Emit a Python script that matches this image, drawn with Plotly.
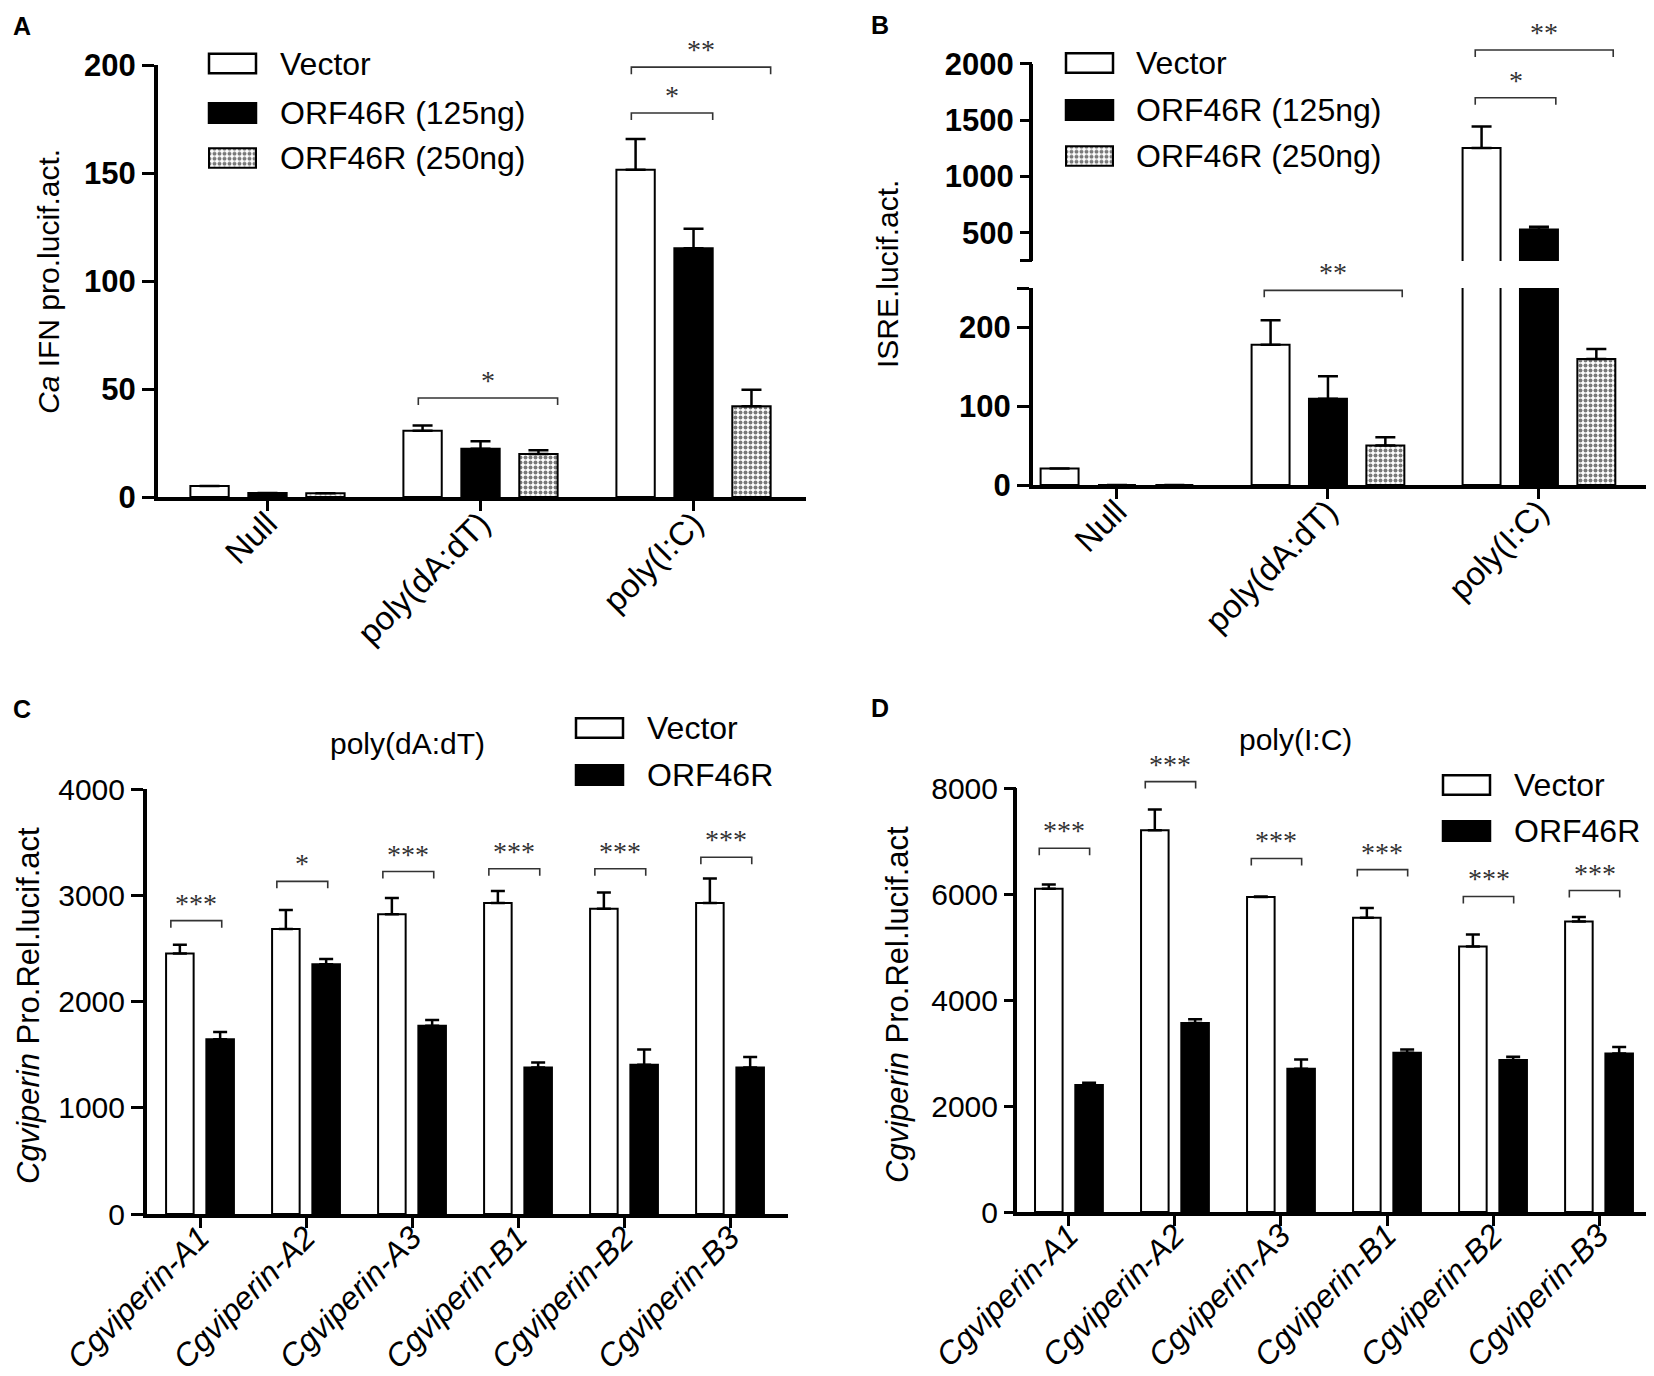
import plotly.graph_objects as go

W, H = 1654, 1376

# ---------------- data ----------------
stim_groups = ["Null", "poly(dA:dT)", "poly(I:C)"]

# panel A: Ca IFN promoter luciferase activity
ifn_vector = [5.1, 30.7, 151.5]
ifn_vector_err = [None, 2.4, 14.2]
ifn_orf125 = [1.9, 22.3, 115.2]
ifn_orf125_err = [None, 3.5, 9.0]
ifn_orf250 = [1.7, 19.9, 42.0]
ifn_orf250_err = [None, 1.7, 7.6]
# (group, from series, to series, height, label)
ifn_sig = [(1, 0, 2, 45.8, "*"), (2, 0, 1, 177.8, "*"), (2, 0, 2, 199.0, "**")]

# panel B: ISRE luciferase activity (broken axis)
isre_vector = [21, 178, 1254]
isre_vector_err = [None, 31, 190]
isre_orf125 = [0, 109.5, 529]
isre_orf125_err = [None, 28.5, 25]
isre_orf250 = [0, 50, 160]
isre_orf250_err = [None, 10.5, 12.6]
isre_sig = [(1, 0, 2, 247, "**"), (2, 0, 1, 1700, "*"), (2, 0, 2, 2125, "**")]

# panels C and D: Cgviperin promoters
viperin_genes = ["Cgviperin-A1", "Cgviperin-A2", "Cgviperin-A3",
                 "Cgviperin-B1", "Cgviperin-B2", "Cgviperin-B3"]

dadt_vector = [2451, 2682, 2822, 2926, 2874, 2926]
dadt_vector_err = [83, 179, 152, 114, 153, 231]
dadt_orf = [1644, 2351, 1771, 1378, 1404, 1378]
dadt_orf_err = [70, 48, 56, 48, 144, 100]
dadt_sig_y = [2761, 3131, 3223, 3249, 3249, 3358]
dadt_sig = ["***", "*", "***", "***", "***", "***"]

pic_vector = [6101, 7203, 5944, 5551, 5009, 5481]
pic_vector_err = [79, 393, 10, 183, 227, 87]
pic_orf = [2395, 3566, 2701, 3007, 2867, 2990]
pic_orf_err = [44, 70, 175, 61, 61, 122]
pic_sig_y = [6862, 8121, 6670, 6460, 5953, 6066]
pic_sig = ["***"] * 6

# ---------------- styling ----------------
FONT = "Liberation Sans, Arial, sans-serif"
SERIF = "Liberation Serif, Times New Roman, serif"
AX_LW = 4
CENTERS3 = [-0.272, 0.0, 0.272]
BW3 = 0.18
CENTERS2 = [-0.19, 0.19]
BW2 = 0.26

VEC = dict(color="white", line=dict(color="black", width=2))
BLK = dict(color="black", line=dict(color="black", width=2))
CHK = dict(color="white", line=dict(color="black", width=2),
           pattern=dict(shape=".", size=5, solidity=0.5, fgcolor="#7a7a7a",
                        bgcolor="white", fillmode="replace"))


def px_x(v):
    return v / W


def px_y(v):
    return 1 - v / H


fig = go.Figure()


def add_bars(xa, ya, values, errs, center, width, marker, cap):
    n = len(values)
    fig.add_trace(go.Bar(
        x=list(range(n)), y=values, width=width, offset=center - width / 2,
        marker=marker, xaxis=xa, yaxis=ya, showlegend=False,
        error_y=dict(type="data", array=errs, arrayminus=[0] * n, symmetric=False,
                     color="black", thickness=2.5, width=cap)))


def add_bracket(xa, ya, x0, x1, y, label, size=28):
    fig.add_shape(type="path", xref=xa, yref=ya, ysizemode="pixel", yanchor=y,
                  path=f"M{x0},-7 L{x0},0 L{x1},0 L{x1},-7",
                  line=dict(color="#333", width=1.6))
    fig.add_annotation(xref=xa, yref=ya, x=(x0 + x1) / 2, y=y, text=label,
                       showarrow=False, yanchor="bottom", yshift=0,
                       font=dict(family=SERIF, size=size, color="#333"))


# panel A
for series, errs, k, mk in [(ifn_vector, ifn_vector_err, 0, VEC),
                            (ifn_orf125, ifn_orf125_err, 1, BLK),
                            (ifn_orf250, ifn_orf250_err, 2, CHK)]:
    add_bars("x", "y", series, errs, CENTERS3[k], BW3, mk, 10)
for g, a, b, y, lab in ifn_sig:
    add_bracket("x", "y", g + CENTERS3[a] - 0.02, g + CENTERS3[b] + 0.09, y, lab)

# panel B (lower x2/y2 and upper x3/y3 segments)
for xa, ya in [("x2", "y2"), ("x3", "y3")]:
    for series, errs, k, mk in [(isre_vector, isre_vector_err, 0, VEC),
                                (isre_orf125, isre_orf125_err, 1, BLK),
                                (isre_orf250, isre_orf250_err, 2, CHK)]:
        add_bars(xa, ya, series, errs, CENTERS3[k], BW3, mk, 10)
for g, a, b, y, lab in isre_sig:
    xa, ya = ("x2", "y2") if y <= 250 else ("x3", "y3")
    add_bracket(xa, ya, g + CENTERS3[a] - 0.03, g + CENTERS3[b] + 0.08, y, lab)

# panel C
add_bars("x4", "y4", dadt_vector, dadt_vector_err, CENTERS2[0], BW2, VEC, 7)
add_bars("x4", "y4", dadt_orf, dadt_orf_err, CENTERS2[1], BW2, BLK, 7)
for g, (y, lab) in enumerate(zip(dadt_sig_y, dadt_sig)):
    add_bracket("x4", "y4", g + CENTERS2[0] - 0.085, g + CENTERS2[1] + 0.015, y, lab)

# panel D
add_bars("x5", "y5", pic_vector, pic_vector_err, CENTERS2[0], BW2, VEC, 7)
add_bars("x5", "y5", pic_orf, pic_orf_err, CENTERS2[1], BW2, BLK, 7)
for g, (y, lab) in enumerate(zip(pic_sig_y, pic_sig)):
    add_bracket("x5", "y5", g + CENTERS2[0] - 0.09, g + CENTERS2[1] + 0.005, y, lab)

# checker legend swatches drawn as bars on hidden axes
for xa, ya in [("x6", "y6"), ("x7", "y7")]:
    fig.add_trace(go.Bar(x=[0], y=[1], width=[1], marker=CHK, xaxis=xa, yaxis=ya,
                         showlegend=False, hoverinfo="skip"))

# ---------------- axes ----------------
xbase = dict(showline=True, linewidth=AX_LW, linecolor="black", ticks="outside",
             ticklen=10, tickwidth=3, tickcolor="black", showgrid=False,
             zeroline=False, tickangle=-45, fixedrange=True)
ybase = dict(showline=True, linewidth=AX_LW, linecolor="black", ticks="outside",
             ticklen=12, tickwidth=3, tickcolor="black", showgrid=False,
             zeroline=False, fixedrange=True)
bold_tick = dict(family=FONT, size=31, color="black", weight="bold")
reg_tick = dict(family=FONT, size=30, color="black")
cat_tick = dict(family=FONT, size=33, color="black")
ital_tick = dict(family=FONT, size=32, color="black")
ital_ticks = [f"<i>{g}</i>" for g in viperin_genes]

# pixel geometry of the four panels
A_Y200, A_Y0 = 57, 489
B_Y2000, B_YBRK_UP, B_YBRK_LO, B_Y0 = 56, 253, 280, 477
B_UP_TOP = 2160
C_Y4000, C_Y0 = 781, 1206
D_Y8000, D_Y0 = 780, 1204
D_TOP = 8150

b_up_px = (B_YBRK_UP - B_Y2000) / 1750
d_px = (D_Y0 - D_Y8000) / 8000

layout_axes = dict(
    xaxis=dict(xbase, domain=[px_x(150), px_x(798)], range=[-0.514, 2.528], anchor="y",
               tickvals=[0, 1, 2], ticktext=stim_groups, tickfont=cat_tick,
               ticklabelstandoff=-20),
    yaxis=dict(ybase, domain=[px_y(A_Y0), px_y(A_Y200)], range=[0, 200], anchor="x",
               tickvals=[0, 50, 100, 150, 200], tickfont=bold_tick),
    xaxis2=dict(xbase, domain=[px_x(1025), px_x(1647)], range=[-0.398, 2.55], anchor="y2",
                tickvals=[0, 1, 2], ticktext=stim_groups, tickfont=cat_tick,
                ticklabelstandoff=-20),
    yaxis2=dict(ybase, domain=[px_y(B_Y0), px_y(B_YBRK_LO)], range=[0, 250], anchor="x2",
                tickvals=[0, 100, 200, 250], ticktext=["0", "100", "200", ""],
                tickfont=bold_tick),
    xaxis3=dict(domain=[px_x(1025), px_x(1647)], range=[-0.398, 2.55], anchor="y3",
                visible=False, fixedrange=True),
    yaxis3=dict(ybase, showline=False,
                domain=[px_y(B_YBRK_UP), px_y(B_Y2000 - (B_UP_TOP - 2000) * b_up_px)],
                range=[250, B_UP_TOP], anchor="x3",
                tickvals=[250, 500, 1000, 1500, 2000],
                ticktext=["", "500", "1000", "1500", "2000"], tickfont=bold_tick),
    xaxis4=dict(xbase, domain=[px_x(139), px_x(780)], range=[-0.5, 5.547], anchor="y4",
                tickvals=list(range(6)), ticktext=ital_ticks, tickfont=ital_tick,
                ticklabelstandoff=-22),
    yaxis4=dict(ybase, domain=[px_y(C_Y0), px_y(C_Y4000)], range=[0, 4000], anchor="x4",
                tickvals=[0, 1000, 2000, 3000, 4000], tickfont=reg_tick),
    xaxis5=dict(xbase, domain=[px_x(1009), 1.0], range=[-0.49, 5.594], anchor="y5",
                tickvals=list(range(6)), ticktext=ital_ticks, tickfont=ital_tick,
                ticklabelstandoff=-22),
    yaxis5=dict(ybase, showline=False,
                domain=[px_y(D_Y0), px_y(D_Y8000 - (D_TOP - 8000) * d_px)],
                range=[0, D_TOP], anchor="x5",
                tickvals=[0, 2000, 4000, 6000, 8000], tickfont=reg_tick),
)

# legend swatch axes (box 47 x 19.5 px, padded by 2 px)
pad_x, pad_y = 2 / 47, 2 / 19.5
for ax_id, (bx, by) in [("6", (201, 150)), ("7", (1058, 148))]:
    layout_axes["xaxis" + ax_id] = dict(domain=[px_x(bx - 2), px_x(bx + 49)],
                                        range=[-0.5 - pad_x, 0.5 + pad_x],
                                        anchor="y" + ax_id, visible=False, fixedrange=True)
    layout_axes["yaxis" + ax_id] = dict(domain=[px_y(by + 11.75), px_y(by - 11.75)],
                                        range=[-pad_y, 1 + pad_y],
                                        anchor="x" + ax_id, visible=False, fixedrange=True)

fig.update_layout(width=W, height=H, margin=dict(l=0, r=0, t=0, b=0),
                  template="none", paper_bgcolor="white", plot_bgcolor="white",
                  barmode="overlay", font=dict(family=FONT, color="black"),
                  **layout_axes)

# manual y-axis lines where the range runs past the top tick
fig.add_shape(type="line", xref="x3 domain", yref="y3 domain", xsizemode="pixel", xanchor=0,
              x0=-AX_LW / 2, x1=-AX_LW / 2, y0=0, y1=(2000 - 250) / (B_UP_TOP - 250),
              line=dict(color="black", width=AX_LW))
d_height = D_Y0 - (D_Y8000 - (D_TOP - 8000) * d_px)
fig.add_shape(type="line", xref="x5 domain", yref="y5 domain", xsizemode="pixel", xanchor=0,
              x0=-AX_LW / 2, x1=-AX_LW / 2, y0=-AX_LW / d_height, y1=8000 / D_TOP,
              line=dict(color="black", width=AX_LW))


# legend boxes and texts
def legend_box(x, yc, fill):
    fig.add_shape(type="rect", xref="paper", yref="paper",
                  x0=px_x(x), x1=px_x(x + 47), y0=px_y(yc + 9.75), y1=px_y(yc - 9.75),
                  fillcolor=fill, line=dict(color="black", width=2.5))


def text(x, y, s, size=30, xanchor="left", angle=0, bold=False):
    fig.add_annotation(xref="paper", yref="paper", x=px_x(x), y=px_y(y), text=s,
                       showarrow=False, xanchor=xanchor, yanchor="middle",
                       textangle=angle,
                       font=dict(family=FONT, size=size, color="black",
                                 weight="bold" if bold else "normal"))


legend3 = ["Vector", "ORF46R (125ng)", "ORF46R (250ng)"]
legend2 = ["Vector", "ORF46R"]

for bx, tx, ys in [(201, 270, [55.5, 105, 150]), (1058, 1126, [55, 102, 148])]:
    legend_box(bx, ys[0], "white")
    legend_box(bx, ys[1], "black")
    for lab, yc in zip(legend3, ys):
        text(tx, yc, lab, size=32)

for bx, tx, ys in [(568, 637, [720, 767]), (1435, 1504, [777, 823])]:
    legend_box(bx, ys[0], "white")
    legend_box(bx, ys[1], "black")
    for lab, yc in zip(legend2, ys):
        text(tx, yc, lab, size=32)

# titles
text(40, 274, "<i>Ca</i> IFN pro.lucif.act.", xanchor="center", angle=-90)
text(879, 266, "ISRE.lucif.act.", xanchor="center", angle=-90)
text(21, 998, "<i>Cgviperin</i> Pro.Rel.lucif.act", size=31, xanchor="center", angle=-90)
text(890, 996, "<i>Cgviperin</i> Pro.Rel.lucif.act", size=31, xanchor="center", angle=-90)
text(399, 735, "poly(dA:dT)", xanchor="center")
text(1287, 732, "poly(I:C)", xanchor="center")

# panel letters
for lab, x, y in [("A", 14, 18), ("B", 872, 17), ("C", 14, 701), ("D", 872, 700)]:
    text(x, y, lab, size=25, xanchor="center", bold=True)

fig.write_html("out.html")
